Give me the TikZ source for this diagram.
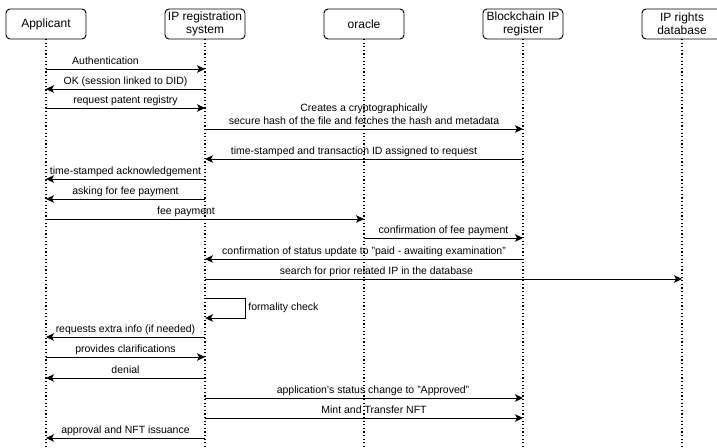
\documentclass[tikz,border=0pt]{standalone}
\usepackage{fontspec}
\setmainfont{Liberation Sans}
\usetikzlibrary{arrows.meta,positioning}

\begin{document}
\begin{tikzpicture}[
				x=1pt, y=-1pt,
				actor/.style={
					rectangle, draw, rounded corners=4pt,
					minimum width=80pt, minimum height=30pt,
					align=center, inner sep=1pt, outer sep=0pt, line width=0.9pt,
					font=\fontsize{12}{13}\selectfont
				},
				lifeline/.style={line width=1.2pt, dash pattern=on 1.2pt off 2.4pt},
				msg/.style={-{Stealth[length=8pt,width=7.5pt,inset=2pt]}, line width=0.9pt},
				msglabel/.style={
					above, inner sep=1.5pt, text depth=2.5pt, align=center,
					font=\fontsize{10.5}{13}\selectfont
				}
				]
				\useasboundingbox (0,0) rectangle (717,447);
				
				% participants
				\node[actor] (applicant) at (46,24) {Applicant};
				\node[actor, right=79pt of applicant] (iprs) {IP registration\\system};
				\node[actor, right=79pt of iprs] (oracle) {oracle};
				\node[actor, right=79pt of oracle] (chain) {Blockchain IP\\register};
				\node[actor, right=79pt of chain] (rightsdb) {IP rights\\database};
				
				% lifelines
				\draw[lifeline] (applicant.south) -- (applicant.south |- 0,447);
				\draw[lifeline] (iprs.south) -- (iprs.south |- 0,447);
				\draw[lifeline] (oracle.south) -- (oracle.south |- 0,447);
				\draw[lifeline] (chain.south) -- (chain.south |- 0,447);
				\draw[lifeline] (rightsdb.south) -- (rightsdb.south |- 0,447);
				
				% registration
				\draw[msg] (applicant |- 0,69) -- node[msglabel, xshift=-20pt] {Authentication} (iprs |- 0,69);
				\draw[msg] (iprs |- 0,89) -- node[msglabel] {OK (session linked to DID)} (applicant |- 0,89);
				\draw[msg] (applicant |- 0,108) -- node[msglabel] {request patent registry} (iprs |- 0,108);
				\draw[msg] (iprs |- 0,129) -- node[msglabel] {Creates a cryptographically\\secure hash of the file and fetches the hash and metadata} (chain |- 0,129);
				\draw[msg] (chain |- 0,159) -- node[msglabel, xshift=-10pt] {time-stamped and transaction ID assigned to request} (iprs |- 0,159);
				\draw[msg] (iprs |- 0,179) -- node[msglabel] {time-stamped acknowledgement} (applicant |- 0,179);
				
				% fee
				\draw[msg] (iprs |- 0,199) -- node[msglabel] {asking for fee payment} (applicant |- 0,199);
				\draw[msg] (applicant |- 0,219) -- node[msglabel, xshift=-19pt] {fee payment} (oracle |- 0,219);
				\draw[msg] (oracle |- 0,238) -- node[msglabel] {confirmation of fee payment} (chain |- 0,238);
				\draw[msg] (chain |- 0,259) -- node[msglabel] {confirmation of status update to "paid - awaiting examination"} (iprs |- 0,259);
				
				% examination
				\draw[msg] (iprs |- 0,279) -- node[msglabel, xshift=-67pt] {search for prior related IP in the database} (rightsdb |- 0,279);
				\draw[msg] (iprs |- 0,298) -- ++(40,0) -- ++(0,20) node[midway, right, inner sep=3pt, font=\fontsize{10.5}{13}\selectfont] {formality check} -- (iprs |- 0,318);
				\draw[msg] (iprs |- 0,337) -- node[msglabel] {requests extra info (if needed)} (applicant |- 0,337);
				\draw[msg] (applicant |- 0,357) -- node[msglabel] {provides clarifications} (iprs |- 0,357);
				\draw[msg] (iprs |- 0,378) -- node[msglabel] {denial} (applicant |- 0,378);
				
				% approval
				\draw[msg] (iprs |- 0,398) -- node[msglabel, xshift=9pt] {application's status change to "Approved"} (chain |- 0,398);
				\draw[msg] (iprs |- 0,418) -- node[msglabel, xshift=10pt] {Mint and Transfer NFT} (chain |- 0,418);
				\draw[msg] (iprs |- 0,438) -- node[msglabel] {approval and NFT issuance} (applicant |- 0,438);
			\end{tikzpicture}
\end{document}
